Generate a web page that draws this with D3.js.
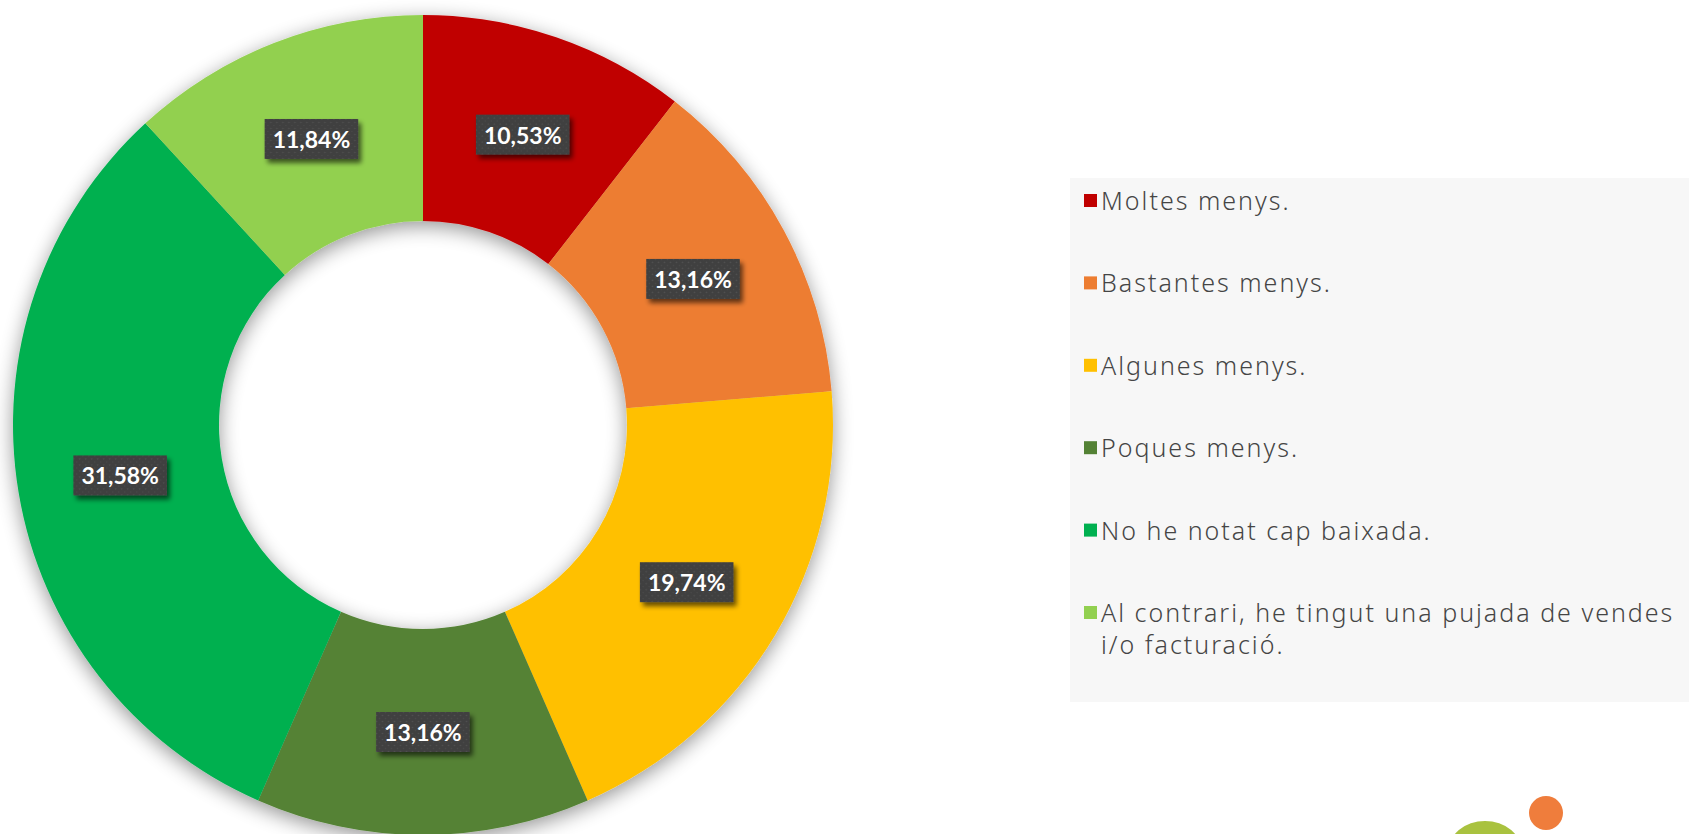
<!DOCTYPE html>
<html>
<head>
<meta charset="utf-8">
<script src="https://cdn.jsdelivr.net/npm/d3@7/dist/d3.min.js"></script>
<style>
  html, body { margin: 0; padding: 0; background: #ffffff; overflow: hidden; }
  svg { display: block; }
</style>
</head>
<body>
<svg id="chart" width="1689" height="834"></svg>
<script>
// ---- data ----
const categories = [
  "Moltes menys.",
  "Bastantes menys.",
  "Algunes menys.",
  "Poques menys.",
  "No he notat cap baixada.",
  "Al contrari, he tingut una pujada de vendes i/o facturació."
];
const values = [10.53, 13.16, 19.74, 13.16, 31.58, 11.84];
const valueLabels = ["10,53%", "13,16%", "19,74%", "13,16%", "31,58%", "11,84%"];
const colors = ["#c00000", "#ed7d31", "#ffc000", "#548235", "#00b050", "#92d050"];

// ---- layout ----
const W = 1689, H = 834;
const cx = 423, cy = 425;
const outerR = 410, innerR = 204;

const svg = d3.select("#chart");
const defs = svg.append("defs");

// drop shadow for donut
const f1 = defs.append("filter").attr("id", "donutShadow")
  .attr("x", "-10%").attr("y", "-10%").attr("width", "120%").attr("height", "120%");
f1.append("feGaussianBlur").attr("in", "SourceAlpha").attr("stdDeviation", 10).attr("result", "b");
f1.append("feOffset").attr("in", "b").attr("dx", 0).attr("dy", 5).attr("result", "o");
f1.append("feComponentTransfer").attr("in", "o").attr("result", "s")
  .append("feFuncA").attr("type", "linear").attr("slope", 0.42);
const m1 = f1.append("feMerge");
m1.append("feMergeNode").attr("in", "s");
m1.append("feMergeNode").attr("in", "SourceGraphic");

// drop shadow for label boxes
const f2 = defs.append("filter").attr("id", "boxShadow")
  .attr("x", "-20%").attr("y", "-30%").attr("width", "150%").attr("height", "170%");
f2.append("feGaussianBlur").attr("in", "SourceAlpha").attr("stdDeviation", 2.5).attr("result", "b");
f2.append("feOffset").attr("in", "b").attr("dx", 3).attr("dy", 4).attr("result", "o");
f2.append("feComponentTransfer").attr("in", "o").attr("result", "s")
  .append("feFuncA").attr("type", "linear").attr("slope", 0.6);
const m2 = f2.append("feMerge");
m2.append("feMergeNode").attr("in", "s");
m2.append("feMergeNode").attr("in", "SourceGraphic");

// dotted texture for label boxes
const pat = defs.append("pattern").attr("id", "dots")
  .attr("width", 6).attr("height", 6).attr("patternUnits", "userSpaceOnUse");
pat.append("rect").attr("width", 6).attr("height", 6).attr("fill", "#404040");
pat.append("circle").attr("cx", 1.5).attr("cy", 1.5).attr("r", 0.8).attr("fill", "#505050");
pat.append("circle").attr("cx", 4.5).attr("cy", 4.5).attr("r", 0.8).attr("fill", "#4a4a4a");

// ---- donut ----
const data = categories.map((c, i) => ({ cat: c, value: values[i], label: valueLabels[i], color: colors[i] }));
const pie = d3.pie().value(d => d.value).sort(null);
const arc = d3.arc().innerRadius(innerR).outerRadius(outerR);
const arcs = pie(data);

const g = svg.append("g").attr("transform", `translate(${cx},${cy})`);
const ring = g.append("g").attr("filter", "url(#donutShadow)");
ring.selectAll("path").data(arcs).join("path")
  .attr("d", arc)
  .attr("fill", d => d.data.color);

// labels
const lg = g.append("g");
arcs.forEach(d => {
  const [x, y] = arc.centroid(d);
  const grp = lg.append("g").attr("transform", `translate(${x},${y})`);
  const rect = grp.append("rect").attr("fill", "url(#dots)").attr("filter", "url(#boxShadow)");
  const t = grp.append("text")
    .attr("text-anchor", "middle")
    .attr("dominant-baseline", "central")
    .attr("font-family", "Lato, 'Open Sans', sans-serif")
    .attr("font-weight", "bold")
    .attr("font-size", 23)
    .attr("fill", "#ffffff")
    .text(d.data.label);
  const bb = t.node().getBBox();
  const bw = bb.width + 16, bh = 40;
  rect.attr("x", -bw / 2).attr("y", -bh / 2).attr("width", bw).attr("height", bh);
});

// ---- legend ----
const legX = 1070, legY = 178, legW = 640, legH = 524;
const leg = svg.append("g");
leg.append("rect").attr("x", legX).attr("y", legY).attr("width", legW).attr("height", legH).attr("fill", "#f7f7f7");

const rowY = d3.scalePoint().domain(categories).range([200, 612]);
const textX = 1101, maxTextW = 584;
categories.forEach((c, i) => {
  const y = rowY(c);
  leg.append("rect").attr("x", 1084).attr("y", y - 6).attr("width", 13).attr("height", 13).attr("fill", colors[i]);
  const t = leg.append("text")
    .attr("x", textX).attr("y", y)
    .attr("dominant-baseline", "central")
    .attr("font-family", "'Noto Sans', Lato, sans-serif")
    .attr("font-weight", 300)
    .attr("font-size", 25)
    .attr("letter-spacing", 2.0)
    .attr("fill", "#454545");
  // word wrap
  const words = c.split(" ");
  let line = [];
  let ts = t.append("tspan").attr("x", textX).attr("dy", 0);
  words.forEach(w => {
    line.push(w);
    ts.text(line.join(" "));
    if (ts.node().getComputedTextLength() > maxTextW && line.length > 1) {
      line.pop();
      ts.text(line.join(" "));
      line = [w];
      ts = t.append("tspan").attr("x", textX).attr("dy", 32).text(w);
    }
  });
});

// ---- logo fragment (bottom right) ----
const logo = svg.append("g");
logo.append("ellipse").attr("cx", 1485).attr("cy", 852).attr("rx", 37).attr("ry", 31).attr("fill", "#a9c23f");
logo.append("ellipse").attr("cx", 1490).attr("cy", 854).attr("rx", 14).attr("ry", 14).attr("fill", "#ffffff");
logo.append("circle").attr("cx", 1546).attr("cy", 813).attr("r", 17).attr("fill", "#ef7d3c");
</script>
</body>
</html>
